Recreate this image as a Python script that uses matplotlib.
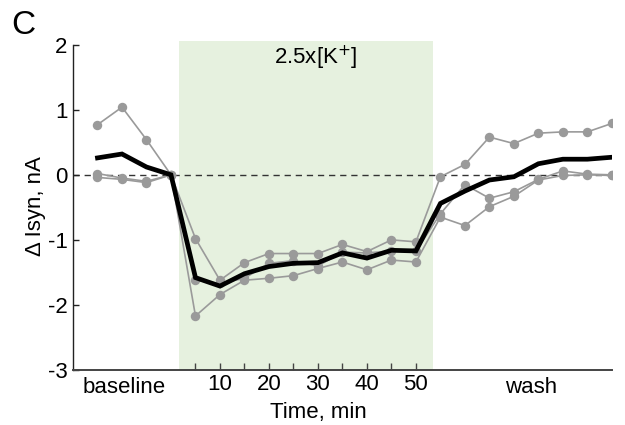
import matplotlib
matplotlib.use("Agg")
import matplotlib.pyplot as plt
import matplotlib.transforms as mtransforms

plt.rcParams['font.family'] = ['Liberation Sans', 'DejaVu Sans']

# time points (min): baseline (-15..0), K+ application (5..50), wash (55..90)
time = [-15, -10, -5, 0, 5, 10, 15, 20, 25, 30, 35, 40, 45, 50,
        55, 60, 65, 70, 75, 80, 85, 90]

cell_a = [0.77, 1.04, 0.54, 0.00, -0.98, -1.62, -1.35, -1.21, -1.21, -1.21, -1.07,
          -1.18, -1.00, -1.03, -0.03, 0.16, 0.58, 0.48, 0.64, 0.66, 0.66, 0.79]
cell_b = [0.02, -0.05, -0.10, 0.00, -1.62, -1.67, -1.59, -1.36, -1.32, -1.40, -1.19,
          -1.20, -1.17, -1.17, -0.60, -0.15, -0.36, -0.26, -0.07, 0.06, 0.01, 0.00]
cell_c = [-0.04, -0.07, -0.12, 0.00, -2.17, -1.84, -1.62, -1.59, -1.55, -1.44, -1.34,
          -1.46, -1.31, -1.34, -0.65, -0.78, -0.49, -0.33, -0.08, -0.01, 0.00, -0.01]
mean_trace = [0.26, 0.32, 0.12, 0.00, -1.58, -1.71, -1.52, -1.41, -1.36, -1.35, -1.20,
              -1.28, -1.16, -1.17, -0.44, -0.25, -0.08, -0.03, 0.17, 0.24, 0.24, 0.27]

treatment_window = [1.6, 53.4]
minor_ticks = [5, 10, 15, 20, 25, 30, 35, 40, 45, 50]
tick_labels = ['', '10', '', '20', '', '30', '', '40', '', '50']
y_ticks = [-3, -2, -1, 0, 1, 2]

fig = plt.figure(figsize=(6.25, 4.25), dpi=100)
ax = fig.add_axes([0.1168, 0.1294, 0.979 - 0.1168, 0.9025 - 0.1294])

ax.axvspan(treatment_window[0], treatment_window[1], color='#e6f1df', lw=0, zorder=0)
ax.axhline(0, color='#333333', lw=1.0, ls=(0, (4.5, 3.5)), zorder=1)

for cell in (cell_a, cell_b, cell_c):
    ax.plot(time, cell, color='#9a9a9a', lw=1.2, marker='o', ms=6.8,
            markeredgewidth=0, zorder=2)
ax.plot(time, mean_trace, color='black', lw=3.4, zorder=3, solid_joinstyle='miter')

ax.set_xlim(-20, 90)
ax.set_ylim(-3, 2.05)

for s in ('top', 'right'):
    ax.spines[s].set_visible(False)
ax.spines['left'].set_bounds(-3, 2)
ax.spines['left'].set_color('#222222')
ax.spines['bottom'].set_color('#444444')
ax.spines['left'].set_linewidth(1.0)
ax.spines['bottom'].set_linewidth(1.4)

ax.set_yticks(y_ticks)
ax.set_yticklabels([str(v) for v in y_ticks])
ax.set_xticks(minor_ticks)
ax.set_xticklabels(tick_labels)
ax.tick_params(axis='y', direction='in', length=4, width=1, labelsize=16, pad=4,
               color='#222222')
ax.tick_params(axis='x', direction='in', length=5, width=1, labelsize=16, pad=3,
               color='#444444')

trans = mtransforms.blended_transform_factory(ax.transData, ax.transAxes)
ax.text(-9.6, -0.022, 'baseline', transform=trans, ha='center', va='top', fontsize=16)
ax.text(73.5, -0.022, 'wash', transform=trans, ha='center', va='top', fontsize=16)
ax.text(30.0, -0.098, 'Time, min', transform=trans, ha='center', va='top', fontsize=16)

ax.text(29.5, 1.8, '2.5x[K$^{+}$]', ha='center', va='center', fontsize=16)

ax.set_ylabel('\u0394 Isyn, nA', fontsize=16, labelpad=1)

fig.text(0.018, 0.94, 'C', fontsize=24, ha='left', va='center')

fig.savefig('out.png', dpi=100)
